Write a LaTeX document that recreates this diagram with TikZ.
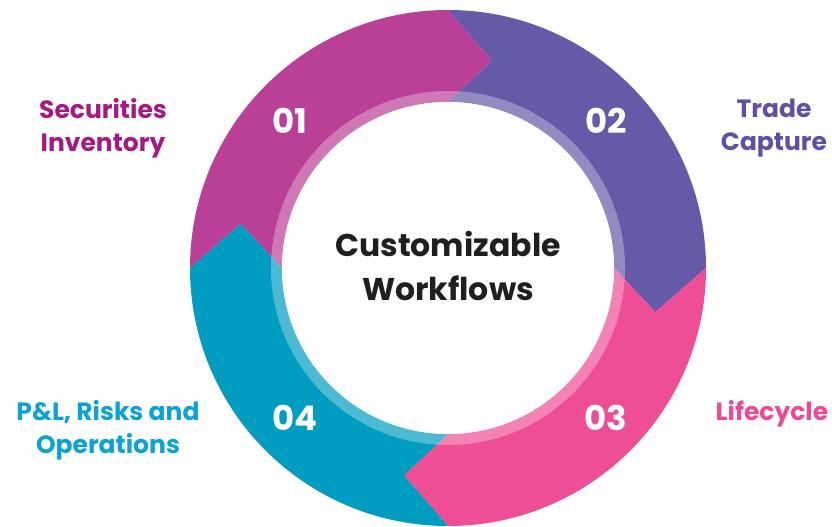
\documentclass[tikz,border=0pt]{standalone}
\usepackage{fontspec}
\setmainfont{Poppins}
\definecolor{cA}{RGB}{185,64,150}
\definecolor{cB}{RGB}{100,90,168}
\definecolor{cC}{RGB}{238,78,150}
\definecolor{cD}{RGB}{0,157,192}
\definecolor{tA}{RGB}{165,25,130}
\definecolor{tB}{RGB}{95,80,165}
\definecolor{tC}{RGB}{236,74,149}
\definecolor{tD}{RGB}{10,163,212}
\newcommand{\ringseg}[3]{%
  \fill[#3] (#1:258) arc[start angle=#1, end angle=#2, radius=258]
    -- ({#2-12}:212) -- (#2:166)
    arc[start angle=#2, end angle=#1, radius=166]
    -- ({#1-12}:212) -- cycle;}
\begin{document}
\begin{tikzpicture}[x=1pt,y=1pt,
  lbl/.style={font=\bfseries\fontsize{25}{33}\selectfont, align=center, inner sep=0pt},
  num/.style={font=\bfseries\fontsize{34}{38}\selectfont, text=white, inner sep=0pt},
  ctr/.style={font=\bfseries\fontsize{31.5}{44}\selectfont, align=center, inner sep=0pt, text=black!88}]
\useasboundingbox (0,0) rectangle (832,527);
\coordinate (c) at (448,259);
\begin{scope}[shift={(c)}]
  \ringseg{180}{90}{cA}
  \ringseg{90}{0}{cB}
  \ringseg{0}{-90}{cC}
  \ringseg{-90}{-180}{cD}
  \fill[white, opacity=0.3, even odd rule] (0,0) circle[radius=177] (0,0) circle[radius=166];
  \fill[white] (0,0) circle[radius=166];
\end{scope}
\node[ctr] (center) at ([yshift=2pt]c) {Customizable\\Workflows};
\node[num] (n1) at (290,406) {01};
\node[num] (n2) at (606,406) {02};
\node[num] (n3) at (606,109) {03};
\node[num] (n4) at (295,109) {04};
\node[lbl, text=tA] (l1) at (103,399) {Securities\\Inventory};
\node[lbl, text=tB] (l2) at (774,399) {Trade\\Capture};
\node[lbl, text=tC] (l3) at (772,113) {Lifecycle};
\node[lbl, text=tD] (l4) at (108,97) {P\&L, Risks and\\Operations};
\end{tikzpicture}
\end{document}
